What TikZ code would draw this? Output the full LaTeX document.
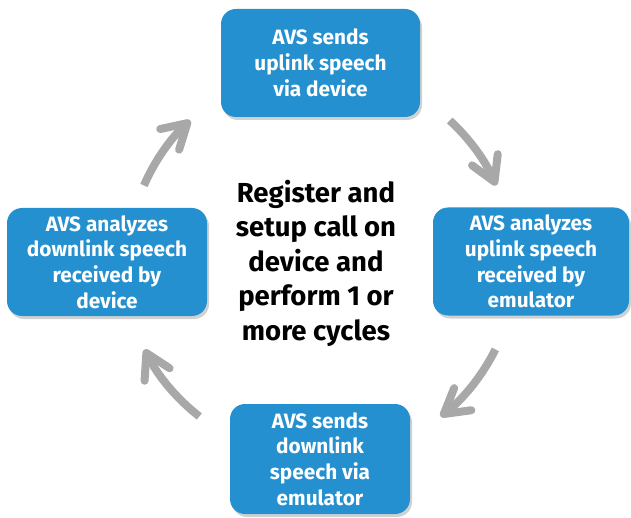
\documentclass[tikz,border=0pt]{standalone}
\usepackage{fontspec}
\setmainfont{Fira Sans}
\usetikzlibrary{arrows.meta,shadows}
\definecolor{boxblue}{HTML}{2490CF}
\definecolor{arrowgray}{HTML}{A8A8A8}
\tikzset{
  stepbox/.style={fill=boxblue, rounded corners=15pt, inner sep=0pt,
    text=white, align=center, font=\bfseries\fontsize{20.8}{25.8}\selectfont,
    drop shadow={shadow xshift=2pt, shadow yshift=-3pt, opacity=0.3, fill=black!60}},
  cyc/.style={draw=arrowgray, line width=8pt,
    -{Straight Barb[round, length=24pt, width=28pt]}},
}
\begin{document}
\begin{tikzpicture}[x=1pt,y=-1pt]
\useasboundingbox (0,0) rectangle (631,518);
\node[stepbox, minimum width=199pt, minimum height=108pt] (top) at (320.5,63) {AVS sends\\uplink speech\\via device};
\node[stepbox, minimum width=196pt, minimum height=108pt] (right) at (531,261.5) {AVS analyzes\\uplink speech\\received by\\emulator};
\node[stepbox, minimum width=180pt, minimum height=110pt] (bottom) at (320,459) {AVS sends\\downlink\\speech via\\emulator};
\node[stepbox, minimum width=200pt, minimum height=108pt] (left) at (107,262) {AVS analyzes\\downlink speech\\received by\\device};
\node[align=center, font=\bfseries\fontsize{27.5}{34.5}\selectfont] (center) at (316,263) {Register and\\setup call on\\device and\\perform 1 or\\more cycles};
\coordinate (c) at (320,262);
\draw[cyc] ([shift={(47.5:192 and -192)}]c) arc[start angle=47.5, end angle=23.5, x radius=192, y radius=-192];
\draw[cyc] ([shift={(-26.5:196 and -196)}]c) arc[start angle=-26.5, end angle=-52, x radius=196, y radius=-196];
\draw[cyc] ([shift={(-128:196 and -196)}]c) arc[start angle=-128, end angle=-153.5, x radius=196, y radius=-196];
\draw[cyc] ([shift={(156.5:192 and -192)}]c) arc[start angle=156.5, end angle=132.5, x radius=192, y radius=-192];
\end{tikzpicture}
\end{document}
